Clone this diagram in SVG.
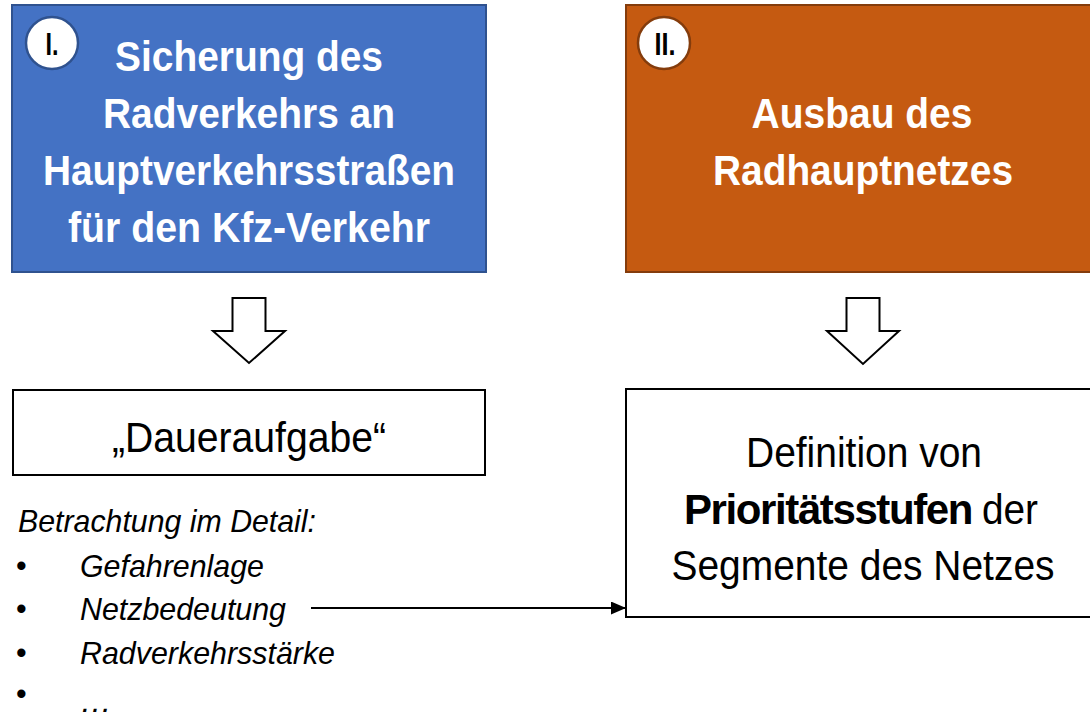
<svg xmlns="http://www.w3.org/2000/svg" width="1090" height="712" viewBox="0 0 1090 712">
<style>
  .title { font-family: "Liberation Sans", Arial, sans-serif; font-weight: bold; font-size: 43px; fill: #ffffff; text-anchor: middle; }
  .num { font-family: "Liberation Sans", Arial, sans-serif; font-weight: bold; font-size: 31px; fill: #000000; text-anchor: middle; }
  .body { font-family: "Liberation Sans", Arial, sans-serif; font-size: 42px; fill: #000000; text-anchor: middle; }
  .bodyl { font-family: "Liberation Sans", Arial, sans-serif; font-size: 42px; fill: #000000; }
  .list { font-family: "Liberation Sans", Arial, sans-serif; font-style: italic; font-size: 32px; fill: #000000; }
  .bullet { font-family: "Liberation Sans", Arial, sans-serif; font-size: 30.5px; fill: #000000; }
  .box { fill: #ffffff; stroke: #000000; stroke-width: 2; }
  .bigarrow { fill: #ffffff; stroke: #000000; stroke-width: 2; stroke-linejoin: miter; }
  .conn { stroke: #000000; stroke-width: 2; fill: none; }
</style>
<defs>
  <marker id="ah" markerWidth="15" markerHeight="13" refX="14" refY="6.5" orient="auto" markerUnits="userSpaceOnUse">
    <path d="M0,0 L15,6.5 L0,13 Z" fill="#000000"/>
  </marker>
</defs>
<rect width="1090" height="712" fill="#ffffff"/>

<g id="node-sicherung">
  <rect x="12" y="5" width="474" height="267" fill="#4472C4" stroke="#2F528F" stroke-width="2"/>
  <circle cx="52" cy="43" r="26" fill="#ffffff" stroke="#2F528F" stroke-width="2.5"/>
  <text class="num" x="52" y="55" textLength="13" lengthAdjust="spacingAndGlyphs">I.</text>
  <text class="title" x="249" y="71" textLength="268" lengthAdjust="spacingAndGlyphs">Sicherung des</text>
  <text class="title" x="249" y="128" textLength="292" lengthAdjust="spacingAndGlyphs">Radverkehrs an</text>
  <text class="title" x="249" y="185" textLength="412" lengthAdjust="spacingAndGlyphs">Hauptverkehrsstraßen</text>
  <text class="title" x="249" y="242" textLength="362" lengthAdjust="spacingAndGlyphs">für den Kfz-Verkehr</text>
</g>

<g id="node-ausbau">
  <rect x="626" y="5" width="474" height="267" fill="#C55A11" stroke="#843C0C" stroke-width="2"/>
  <circle cx="664" cy="43" r="26" fill="#ffffff" stroke="#843C0C" stroke-width="2.5"/>
  <text class="num" x="665" y="55" textLength="21" lengthAdjust="spacingAndGlyphs">II.</text>
  <text class="title" x="862" y="128" textLength="221" lengthAdjust="spacingAndGlyphs">Ausbau des</text>
  <text class="title" x="863" y="185" textLength="300" lengthAdjust="spacingAndGlyphs">Radhauptnetzes</text>
</g>

<g id="arrow-left">
  <polygon class="bigarrow" points="232.5,298 265.5,298 265.5,331 285,331 249,363 213,331 232.5,331"/>
</g>
<g id="arrow-right">
  <polygon class="bigarrow" points="846.5,298 879.5,298 879.5,331 899,331 863,364 827,331 846.5,331"/>
</g>

<g id="node-daueraufgabe">
  <rect class="box" x="13" y="390" width="472" height="85"/>
  <text class="body" x="249" y="452" textLength="274" lengthAdjust="spacingAndGlyphs">„Daueraufgabe“</text>
</g>

<g id="node-definition">
  <rect class="box" x="626" y="389" width="474" height="228"/>
  <text class="body" x="864" y="467" textLength="236" lengthAdjust="spacingAndGlyphs">Definition von</text>
  <text class="bodyl" x="684" y="524" font-weight="bold" letter-spacing="-1.4">Prioritätsstufen</text>
  <text class="bodyl" x="982" y="524" textLength="56" lengthAdjust="spacingAndGlyphs">der</text>
  <text class="body" x="863" y="580" textLength="383" lengthAdjust="spacingAndGlyphs">Segmente des Netzes</text>
</g>

<g id="node-list">
  <text class="list" x="18" y="532" textLength="298" lengthAdjust="spacingAndGlyphs">Betrachtung im Detail:</text>
  <text class="bullet" x="16" y="576">•</text>
  <text class="list" x="80" y="577" textLength="184" lengthAdjust="spacingAndGlyphs">Gefahrenlage</text>
  <text class="bullet" x="16" y="619">•</text>
  <text class="list" x="80" y="620" textLength="206" lengthAdjust="spacingAndGlyphs">Netzbedeutung</text>
  <text class="bullet" x="16" y="663">•</text>
  <text class="list" x="80" y="664" textLength="255" lengthAdjust="spacingAndGlyphs">Radverkehrsstärke</text>
  <text class="bullet" x="16" y="704">•</text>
  <text class="list" x="80" y="712">…</text>
</g>

<g id="connectors">
  <line class="conn" x1="311" y1="608" x2="625" y2="608" marker-end="url(#ah)"/>
</g>
</svg>
